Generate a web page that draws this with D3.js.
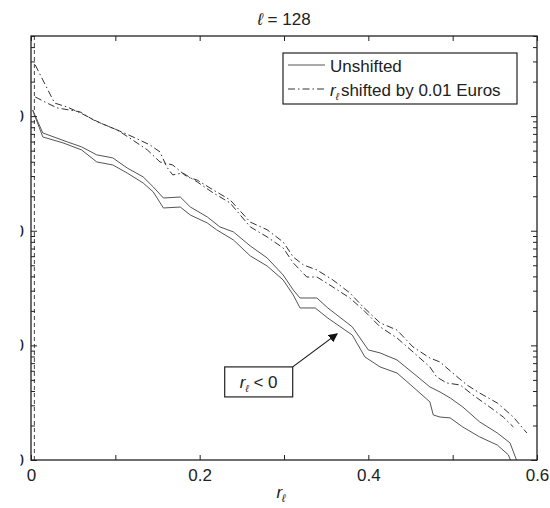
<!DOCTYPE html>
<html>
  <head>
    <meta charset="utf-8">
    <style type="text/css">
      body { margin: 0; background: #fff; }
      text { font-family: "Liberation Sans", Arial, sans-serif; fill: #222; }
    </style>
    <script src="https://d3js.org/d3.v7.min.js"></script>
  </head>
  <body>
    <svg width="550" height="508"></svg>
    <script>
      // r_l values and probabilities
      const unshiftedA = [
        [0.002, 11300], [0.014, 7130], [0.043, 5960], [0.060, 5390], [0.078, 4590],
        [0.097, 4320], [0.114, 3530], [0.133, 2950], [0.145, 2410], [0.157, 1930],
        [0.177, 1970], [0.189, 1610], [0.209, 1320], [0.224, 1080], [0.240, 977],
        [0.260, 737], [0.280, 579], [0.299, 411], [0.311, 304], [0.319, 259],
        [0.339, 259], [0.352, 212], [0.381, 145], [0.400, 91.2], [0.414, 85.9],
        [0.434, 74.6], [0.453, 57.4], [0.473, 43.4], [0.485, 39.2], [0.497, 34.8],
        [0.512, 29.0], [0.532, 21.5], [0.553, 17.2], [0.568, 14.1], [0.578, 9]
      ];
      const unshiftedB = [
        [0.002, 11300], [0.014, 6580], [0.038, 5840], [0.060, 5070], [0.078, 3980],
        [0.097, 3750], [0.114, 3190], [0.133, 2610], [0.145, 2180], [0.157, 1580],
        [0.177, 1610], [0.189, 1370], [0.209, 1170], [0.220, 1020], [0.240, 831],
        [0.260, 603], [0.280, 493], [0.299, 372], [0.311, 275], [0.319, 212],
        [0.337, 212], [0.352, 173], [0.381, 123], [0.396, 79.2], [0.414, 64.8],
        [0.434, 57.4], [0.453, 43.4], [0.473, 32.1], [0.477, 24.7], [0.485, 23.7],
        [0.497, 23.3], [0.512, 19.4], [0.532, 15.9], [0.553, 13.5], [0.566, 11.1],
        [0.571, 9]
      ];
      const shiftedC = [
        [0.005, 28000], [0.014, 20700], [0.028, 13000], [0.043, 12000], [0.058, 10700],
        [0.082, 8720], [0.102, 7580], [0.117, 6450], [0.138, 5070], [0.153, 3980],
        [0.168, 3750], [0.185, 2950], [0.197, 2770], [0.216, 2270], [0.236, 1860],
        [0.260, 1190], [0.280, 1020], [0.299, 798], [0.311, 590], [0.323, 503],
        [0.339, 455], [0.358, 372], [0.378, 287], [0.394, 216], [0.414, 157],
        [0.434, 136], [0.453, 96.8], [0.473, 77.6], [0.485, 71.6], [0.500, 57.4],
        [0.517, 45.1], [0.532, 38.4], [0.553, 31.4], [0.572, 23.7], [0.588, 17.2]
      ];
      const shiftedD = [
        [0.005, 14700], [0.019, 13000], [0.031, 11800], [0.058, 10900], [0.074, 9270],
        [0.082, 8720], [0.102, 7580], [0.121, 6580], [0.141, 5610], [0.153, 4870],
        [0.161, 3600], [0.168, 3070], [0.180, 3190], [0.197, 2670], [0.216, 2140],
        [0.236, 1750], [0.260, 1080], [0.280, 883], [0.299, 708], [0.311, 524],
        [0.327, 395], [0.339, 395], [0.358, 323], [0.378, 259], [0.394, 204],
        [0.414, 145], [0.434, 116], [0.453, 87.6], [0.473, 64.8], [0.481, 53.0],
        [0.493, 47.0], [0.509, 45.1], [0.524, 36.9], [0.544, 29.0], [0.560, 23.7],
        [0.572, 19.4]
      ];
      const xTicks = [0, 0.1, 0.2, 0.3, 0.4, 0.5, 0.6];
      const xLabels = [0, 0.2, 0.4, 0.6];
      const yMajor = [10, 100, 1000, 10000];
      const legendLabels = ['Unshifted', 'shifted by 0.01 Euros'];
      const zeroLine = 0.004;
      const note = { r: 0.270, p: 48, tipR: 0.363, tipP: 126 };

      const svg = d3.select('svg');
      const margin = { left: 31, right: 13, top: 36, bottom: 48 };
      const width = +svg.attr('width');
      const height = +svg.attr('height');
      const x0 = margin.left, x1 = width - margin.right;
      const y0 = height - margin.bottom, y1 = margin.top;

      const xScale = d3.scaleLinear().domain([0, 0.6]).range([x0, x1]);
      const yScale = d3.scaleLog().domain([10, 50000]).range([y0, y1]);

      const defs = svg.append('defs');
      defs.append('clipPath').attr('id', 'plot')
        .append('rect').attr('x', x0).attr('y', y1)
          .attr('width', x1 - x0).attr('height', y0 - y1);
      // the scanned figure was trimmed on the left, only the ends of the y labels remain
      defs.append('clipPath').attr('id', 'crop')
        .append('rect').attr('x', 20.5 - x0).attr('y', 0)
          .attr('width', width).attr('height', height);
      defs.append('marker')
          .attr('id', 'head').attr('viewBox', '0 0 10 10')
          .attr('refX', 9).attr('refY', 5)
          .attr('markerWidth', 9).attr('markerHeight', 9)
          .attr('markerUnits', 'userSpaceOnUse')
          .attr('orient', 'auto')
        .append('path').attr('d', 'M0,0L10,5L0,10z').attr('fill', '#111');

      const line = d3.line()
        .x(d => xScale(d[0]))
        .y(d => yScale(d[1]));

      const curves = svg.append('g').attr('clip-path', 'url(#plot)');

      curves.append('line')
        .attr('x1', xScale(zeroLine)).attr('x2', xScale(zeroLine))
        .attr('y1', y1).attr('y2', y0)
        .attr('stroke', '#444').attr('stroke-width', 1)
        .attr('stroke-dasharray', '4,3');

      [unshiftedA, unshiftedB].forEach(s => {
        curves.append('path').datum(s)
          .attr('d', line).attr('fill', 'none')
          .attr('stroke', '#555').attr('stroke-width', 1);
      });
      [shiftedC, shiftedD].forEach(s => {
        curves.append('path').datum(s)
          .attr('d', line).attr('fill', 'none')
          .attr('stroke', '#333').attr('stroke-width', 1)
          .attr('stroke-dasharray', '7,3,1.5,3');
      });

      // axes, ticks drawn inward like matlab
      const fmtX = d => xLabels.some(v => Math.abs(v - d) < 1e-9) ? d3.format('')(d) : '';
      svg.append('g').attr('transform', `translate(0,${y0})`)
        .call(d3.axisBottom(xScale).tickValues(xTicks).tickFormat(fmtX)
          .tickSizeInner(-5).tickSizeOuter(0).tickPadding(9));
      svg.append('g').attr('transform', `translate(0,${y1})`)
        .call(d3.axisTop(xScale).tickValues(xTicks).tickFormat('')
          .tickSizeInner(-5).tickSizeOuter(0));

      const minor = yScale.ticks().filter(v => yMajor.indexOf(v) < 0);
      svg.append('g').attr('transform', `translate(${x0},0)`)
        .attr('clip-path', 'url(#crop)')
        .call(d3.axisLeft(yScale).tickValues(yMajor).tickFormat(d3.format('d'))
          .tickSizeInner(-6).tickSizeOuter(0).tickPadding(7));
      svg.append('g').attr('transform', `translate(${x0},0)`)
        .call(d3.axisLeft(yScale).tickValues(minor).tickFormat('')
          .tickSizeInner(-4).tickSizeOuter(0));
      svg.append('g').attr('transform', `translate(${x1},0)`)
        .call(d3.axisRight(yScale).tickValues(yMajor).tickFormat('')
          .tickSizeInner(-6).tickSizeOuter(0));
      svg.append('g').attr('transform', `translate(${x1},0)`)
        .call(d3.axisRight(yScale).tickValues(minor).tickFormat('')
          .tickSizeInner(-4).tickSizeOuter(0));

      svg.selectAll('.domain').remove();
      svg.selectAll('.tick line').attr('stroke', '#222');
      svg.selectAll('.tick text').style('font-size', '17px')
        .style('font-family', '"Liberation Sans", Arial, sans-serif').attr('fill', '#222');

      svg.append('rect')
        .attr('x', x0).attr('y', y1)
        .attr('width', x1 - x0).attr('height', y0 - y1)
        .attr('fill', 'none').attr('stroke', '#222').attr('stroke-width', 1.3);

      // title and x label
      const title = svg.append('text')
        .attr('x', (x0 + x1) / 2).attr('y', 25)
        .attr('text-anchor', 'middle').style('font-size', '17px');
      title.append('tspan').style('font-style', 'italic').text('ℓ');
      title.append('tspan').text(' = 128');

      const xlab = svg.append('text')
        .attr('x', (x0 + x1) / 2 - 3).attr('y', 498)
        .attr('text-anchor', 'middle').style('font-size', '17px')
        .style('font-style', 'italic');
      xlab.append('tspan').text('r');
      xlab.append('tspan').attr('dy', 4).style('font-size', '11px').text('ℓ');

      // legend
      const lg = svg.append('g').attr('transform', 'translate(283,53)');
      lg.append('rect').attr('width', 234).attr('height', 51)
        .attr('fill', '#fff').attr('stroke', '#222').attr('stroke-width', 1.2);
      lg.append('line').attr('x1', 5).attr('x2', 42).attr('y1', 12).attr('y2', 12)
        .attr('stroke', '#555');
      lg.append('line').attr('x1', 5).attr('x2', 42).attr('y1', 36).attr('y2', 36)
        .attr('stroke', '#333').attr('stroke-dasharray', '7,3,1.5,3');
      lg.append('text').attr('x', 47).attr('y', 19).style('font-size', '17px')
        .text(legendLabels[0]);
      const l2 = lg.append('text').attr('x', 47).attr('y', 43).style('font-size', '17px');
      l2.append('tspan').style('font-style', 'italic').text('r');
      l2.append('tspan').attr('dy', 4).style('font-size', '10px').style('font-style', 'italic').text('ℓ');
      l2.append('tspan').attr('dy', -4).attr('dx', 2).text(legendLabels[1]);

      // r_l < 0 note with arrow
      const bw = 68, bh = 30;
      const bx = xScale(note.r) - bw / 2, by = yScale(note.p) - bh / 2;
      svg.append('line')
        .attr('x1', bx + bw).attr('y1', by)
        .attr('x2', xScale(note.tipR)).attr('y2', yScale(note.tipP))
        .attr('stroke', '#111').attr('stroke-width', 1.1)
        .attr('marker-end', 'url(#head)');
      svg.append('rect').attr('x', bx).attr('y', by)
        .attr('width', bw).attr('height', bh)
        .attr('fill', '#fff').attr('stroke', '#222').attr('stroke-width', 1.2);
      const nt = svg.append('text').attr('x', bx + bw / 2).attr('y', by + 21)
        .attr('text-anchor', 'middle').style('font-size', '17px');
      nt.append('tspan').style('font-style', 'italic').text('r');
      nt.append('tspan').attr('dy', 4).style('font-size', '10px').style('font-style', 'italic').text('ℓ');
      nt.append('tspan').attr('dy', -4).text(' < 0');
    </script>
  </body>
</html>
